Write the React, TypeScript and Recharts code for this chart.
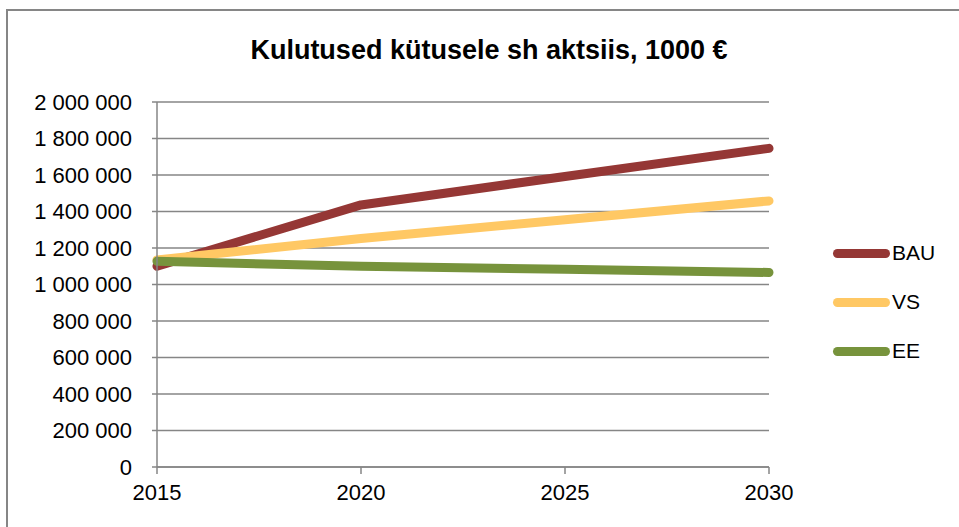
import React from "react";
import { LineChart, Line, XAxis, YAxis, CartesianGrid } from "recharts";

const years = [2015, 2020, 2025, 2030];
const bau = [1100000, 1436000, 1592000, 1746000];
const vs = [1135000, 1252000, 1355000, 1458000];
const ee = [1127000, 1100000, 1083000, 1066000];
const yTicks = [0, 200000, 400000, 600000, 800000, 1000000, 1200000, 1400000, 1600000, 1800000, 2000000];

const title = "Kulutused kütusele sh aktsiis, 1000 €";

const series = [
  { key: "BAU", values: bau, color: "#953735" },
  { key: "VS", values: vs, color: "#FFC864" },
  { key: "EE", values: ee, color: "#77933C" },
];

const data = years.map((y, i) => ({
  year: y,
  BAU: bau[i],
  VS: vs[i],
  EE: ee[i],
}));

const grey = "#868686";
const font = "'Liberation Sans', Arial, sans-serif";

// 2 000 000 style thousands separator
const fmt = (v: number) => String(v).replace(/\B(?=(\d{3})+(?!\d))/g, "\u00a0");

export default function App() {
  return (
    <div style={{ position: "absolute", left: 0, top: 0, width: 959, height: 527, background: "#fff", overflow: "hidden", fontFamily: font }}>
      <div
        style={{
          position: "absolute",
          left: 6,
          top: 9,
          width: 1000,
          height: 600,
          borderTop: `2px solid ${grey}`,
          borderLeft: `2px solid ${grey}`,
        }}
      />
      <div
        style={{
          position: "absolute",
          left: 0,
          width: 978,
          top: 35,
          textAlign: "center",
          fontSize: 27,
          fontWeight: "bold",
          color: "#000",
        }}
      >
        {title}
      </div>
      <div style={{ position: "absolute", left: 0, top: 0 }}>
        <LineChart width={959} height={527} data={data} margin={{ top: 102, right: 190, bottom: 20, left: 10 }}>
          <CartesianGrid horizontal vertical={false} stroke={grey} strokeWidth={1.5} />
          <XAxis
            dataKey="year"
            type="number"
            domain={[2015, 2030]}
            ticks={years}
            height={40}
            axisLine={{ stroke: grey, strokeWidth: 1.5 }}
            tickLine={{ stroke: grey, strokeWidth: 1.5 }}
            tickSize={7}
            tick={{ fontSize: 22, fill: "#000", fontFamily: font }}
            tickMargin={10}
          />
          <YAxis
            domain={[0, 2000000]}
            ticks={yTicks}
            width={147}
            interval={0}
            tickFormatter={fmt}
            axisLine={{ stroke: grey, strokeWidth: 1.5 }}
            tickLine={{ stroke: grey, strokeWidth: 1.5 }}
            tickSize={5}
            tickMargin={20}
            tick={{ fontSize: 22, fill: "#000", fontFamily: font }}
          />
          {series.map((s) => (
            <Line
              key={s.key}
              dataKey={s.key}
              stroke={s.color}
              strokeWidth={9}
              strokeLinecap="round"
              strokeLinejoin="round"
              dot={false}
              activeDot={false}
              type="linear"
              isAnimationActive={false}
            />
          ))}
        </LineChart>
      </div>
      {series.map((s, i) => (
        <div key={s.key} style={{ position: "absolute", left: 833, top: 241 + i * 49, height: 24, display: "flex", alignItems: "center" }}>
          <div style={{ width: 57, height: 9, borderRadius: 5, background: s.color }} />
          <span style={{ fontSize: 21, color: "#000", marginLeft: 2 }}>{s.key}</span>
        </div>
      ))}
    </div>
  );
}
